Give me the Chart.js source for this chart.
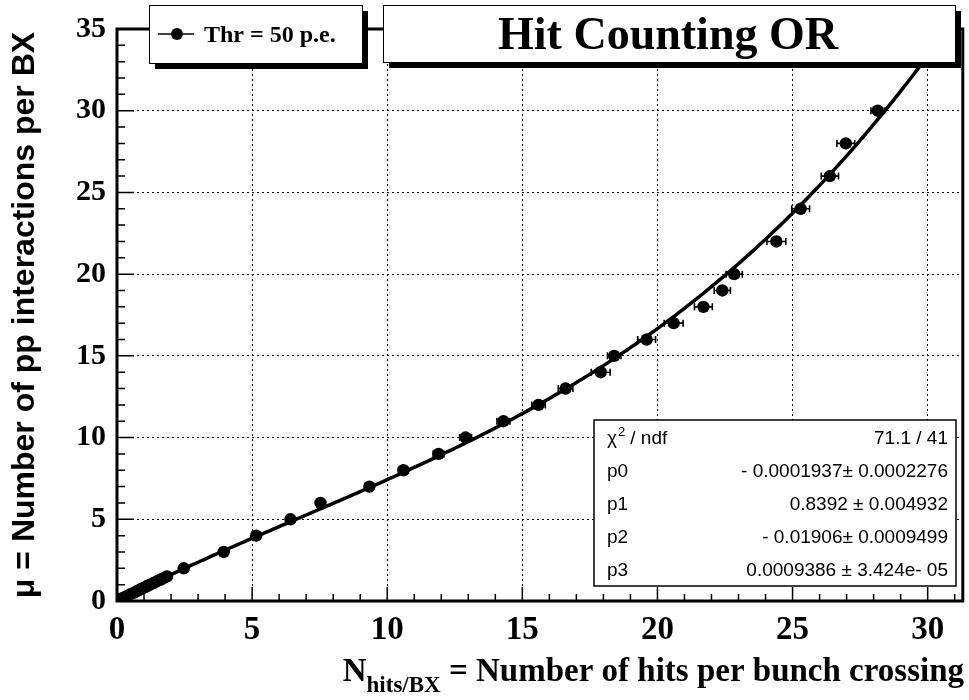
<!DOCTYPE html>
<html>
<head>
<meta charset="utf-8">
<script src="https://cdn.jsdelivr.net/npm/chart.js@4.4.0/dist/chart.umd.min.js"></script>
<style>
  body { margin: 0; background: #fff; }
  canvas { display: block; }
</style>
</head>
<body>
<canvas id="fitChart" width="969" height="700"></canvas>
<script>
// measured points: hits per bunch crossing vs. mean pp interactions
const hits = [0.012, 0.024, 0.036, 0.06, 0.084, 0.12, 0.18, 0.24, 0.36, 0.48, 0.61, 0.73, 0.85, 0.98, 1.1, 1.22, 1.35, 1.47, 1.6, 1.72, 1.85,
  2.47, 3.95, 5.15, 6.42, 7.53, 9.34, 10.6, 11.9, 12.9, 14.3, 15.6, 16.6, 17.9, 18.4, 19.6, 20.6, 21.7, 22.4, 22.84, 24.4, 25.3, 26.38, 26.97, 28.15];
const hitErrors = [0.002, 0.003, 0.004, 0.005, 0.006, 0.008, 0.01, 0.012, 0.015, 0.018, 0.02, 0.022, 0.025, 0.027, 0.03, 0.032, 0.034, 0.036, 0.038, 0.04, 0.045,
  0.06, 0.08, 0.1, 0.12, 0.14, 0.16, 0.18, 0.2, 0.22, 0.24, 0.25, 0.27, 0.35, 0.25, 0.33, 0.35, 0.33, 0.3, 0.3, 0.35, 0.33, 0.32, 0.33, 0.25];
const mu = [0.01, 0.02, 0.03, 0.05, 0.07, 0.1, 0.15, 0.2, 0.3, 0.4, 0.5, 0.6, 0.7, 0.8, 0.9, 1.0, 1.1, 1.2, 1.3, 1.4, 1.5,
  2, 3, 4, 5, 6, 7, 8, 9, 10, 11, 12, 13, 14, 15, 16, 17, 18, 19, 20, 22, 24, 26, 28, 30];

// cubic fit p0 + p1 x + p2 x^2 + p3 x^3
const fitParams = [-0.0001937, 0.8392, -0.01906, 0.0009386];
const statNames = ["p0", "p1", "p2", "p3"];
const statValues = ["- 0.0001937\u00b1 0.0002276", "0.8392 \u00b1 0.004932", "- 0.01906\u00b1 0.0009499", "0.0009386 \u00b1 3.424e- 05"];
const chi2Text = "71.1 / 41";

const xMax = 31.3;
const yMax = 35;
const legendLabel = "Thr = 50 p.e.";
const titleText = "Hit Counting OR";

const fitX = [];
for (let x = 0; x <= 31; x += 0.1) fitX.push(x);
const fitY = fitX.map(x => fitParams[0] + fitParams[1] * x + fitParams[2] * x * x + fitParams[3] * x * x * x);

const serif = '"Liberation Serif", "Times New Roman", serif';
const sans = '"Liberation Sans", Arial, sans-serif';

function shadowBox(ctx, x, y, w, h) {
  ctx.fillStyle = '#000';
  ctx.fillRect(x + 6, y + 6, w, h);
  ctx.fillStyle = '#fff';
  ctx.fillRect(x, y, w, h);
  ctx.strokeStyle = '#000';
  ctx.lineWidth = 1;
  ctx.strokeRect(x + 0.5, y + 0.5, w, h);
}

const rootStyle = {
  id: 'rootStyle',
  beforeDraw(chart) {
    const ctx = chart.ctx;
    ctx.save();
    ctx.fillStyle = '#fff';
    ctx.fillRect(0, 0, chart.width, chart.height);
    ctx.restore();
  },
  beforeDatasetsDraw(chart) {
    // horizontal error bars with end caps
    const { ctx, scales: { x, y }, chartArea } = chart;
    ctx.save();
    ctx.beginPath();
    ctx.rect(chartArea.left, chartArea.top, chartArea.right - chartArea.left, chartArea.bottom - chartArea.top);
    ctx.clip();
    ctx.strokeStyle = '#000';
    ctx.lineWidth = 1.6;
    hits.forEach((h, i) => {
      const py = y.getPixelForValue(mu[i]);
      const x0 = x.getPixelForValue(h - hitErrors[i]);
      const x1 = x.getPixelForValue(h + hitErrors[i]);
      ctx.beginPath();
      ctx.moveTo(x0, py); ctx.lineTo(x1, py);
      ctx.moveTo(x0, py - 3.5); ctx.lineTo(x0, py + 3.5);
      ctx.moveTo(x1, py - 3.5); ctx.lineTo(x1, py + 3.5);
      ctx.stroke();
    });
    ctx.restore();
  },
  afterDatasetsDraw(chart) {
    const { ctx, scales: { x, y }, chartArea: a } = chart;
    ctx.save();
    ctx.strokeStyle = '#000';
    // inward tick marks
    ctx.lineWidth = 1.5;
    ctx.beginPath();
    for (let v = 0; v <= yMax; v++) {
      const py = y.getPixelForValue(v);
      ctx.moveTo(a.left, py);
      ctx.lineTo(a.left + (v % 5 === 0 ? 17 : 8), py);
    }
    for (let v = 0; v <= Math.floor(xMax); v++) {
      const px = x.getPixelForValue(v);
      ctx.moveTo(px, a.bottom);
      ctx.lineTo(px, a.bottom - (v % 5 === 0 ? 14 : 7));
    }
    ctx.stroke();
    // frame
    ctx.lineWidth = 3;
    ctx.strokeRect(a.left, a.top, a.right - a.left, a.bottom - a.top);
    ctx.restore();
  },
  afterDraw(chart) {
    const ctx = chart.ctx;
    ctx.save();

    // legend
    shadowBox(ctx, 149, 5, 213, 58);
    ctx.strokeStyle = '#000';
    ctx.lineWidth = 1.5;
    ctx.beginPath();
    ctx.moveTo(158, 34); ctx.lineTo(194, 34);
    ctx.stroke();
    ctx.fillStyle = '#000';
    ctx.beginPath();
    ctx.arc(177, 34, 6, 0, Math.PI * 2);
    ctx.fill();
    ctx.font = 'bold 24px ' + serif;
    ctx.textAlign = 'left';
    ctx.textBaseline = 'alphabetic';
    ctx.fillText(legendLabel, 204, 42);

    // title
    shadowBox(ctx, 383, 5, 572, 57);
    ctx.fillStyle = '#000';
    ctx.font = 'bold 46px ' + serif;
    ctx.textAlign = 'center';
    ctx.fillText(titleText, 668, 49);

    // fit statistics
    const sx = 594, sy = 420, sw = 362, sh = 166;
    ctx.fillStyle = '#fff';
    ctx.fillRect(sx, sy, sw, sh);
    ctx.strokeStyle = '#000';
    ctx.lineWidth = 1.5;
    ctx.strokeRect(sx, sy, sw, sh);
    ctx.fillStyle = '#000';
    const rowH = sh / 5;
    const rowY = i => sy + rowH * (i + 0.5) + 7;
    ctx.font = '19px ' + sans;
    ctx.textAlign = 'left';
    ctx.fillText('\u03c7', 607, rowY(0));
    const chiW = ctx.measureText('\u03c7').width;
    ctx.font = '13px ' + sans;
    ctx.fillText('2', 607 + chiW + 1, rowY(0) - 8);
    ctx.font = '19px ' + sans;
    ctx.fillText(' / ndf', 607 + chiW + 8, rowY(0));
    ctx.textAlign = 'right';
    ctx.fillText(chi2Text, 948, rowY(0));
    statNames.forEach((n, i) => {
      ctx.textAlign = 'left';
      ctx.fillText(n, 607, rowY(i + 1));
      ctx.textAlign = 'right';
      ctx.fillText(statValues[i], 948, rowY(i + 1));
    });

    // x axis title with subscript
    const mainFont = 'bold 33px ' + serif;
    const subFont = 'bold 23px ' + serif;
    const rest = ' = Number of hits per bunch crossing';
    ctx.textAlign = 'left';
    ctx.font = mainFont;
    const wN = ctx.measureText('N').width;
    const wRest = ctx.measureText(rest).width;
    ctx.font = subFont;
    const wSub = ctx.measureText('hits/BX').width;
    let tx = 964 - (wN + wSub + wRest);
    const base = 681;
    ctx.font = mainFont;
    ctx.fillText('N', tx, base);
    tx += wN;
    ctx.font = subFont;
    ctx.fillText('hits/BX', tx, base + 11);
    tx += wSub;
    ctx.font = mainFont;
    ctx.fillText(rest, tx, base);

    ctx.restore();
  }
};

new Chart(document.getElementById('fitChart').getContext('2d'), {
  type: 'scatter',
  data: {
    datasets: [
      {
        label: 'fit',
        data: fitX.map((x, i) => ({ x: x, y: fitY[i] })),
        showLine: true,
        borderColor: '#000',
        borderWidth: 3.5,
        pointRadius: 0,
        tension: 0,
        order: 2
      },
      {
        label: legendLabel,
        data: hits.map((h, i) => ({ x: h, y: mu[i] })),
        backgroundColor: '#000',
        borderColor: '#000',
        pointRadius: 6.2,
        pointBorderWidth: 0,
        order: 1
      }
    ]
  },
  options: {
    responsive: false,
    animation: false,
    events: [],
    layout: { padding: { left: 0, top: 26, right: 4, bottom: 0 } },
    plugins: { legend: { display: false }, tooltip: { enabled: false } },
    scales: {
      x: {
        type: 'linear',
        min: 0,
        max: xMax,
        afterFit(scale) { scale.height = 99; },
        grid: {
          color: ctx => (ctx.tick && ctx.tick.value > 0 ? '#000' : 'rgba(0,0,0,0)'),
          lineWidth: 1,
          drawTicks: false
        },
        border: { display: false, dash: [2, 3] },
        ticks: {
          stepSize: 5,
          includeBounds: false,
          maxRotation: 0,
          padding: 10,
          color: '#000',
          font: { family: serif, weight: 'bold', size: 33 }
        }
      },
      y: {
        type: 'linear',
        min: 0,
        max: yMax,
        afterFit(scale) { scale.width = 117; },
        grid: {
          color: ctx => (ctx.tick && ctx.tick.value > 0 && ctx.tick.value < yMax ? '#000' : 'rgba(0,0,0,0)'),
          lineWidth: 1,
          drawTicks: false
        },
        border: { display: false, dash: [2, 3] },
        ticks: {
          stepSize: 5,
          padding: 11,
          color: '#000',
          font: { family: serif, weight: 'bold', size: 30 }
        },
        title: {
          display: true,
          text: '\u03bc = Number of pp interactions per BX',
          color: '#000',
          font: { family: sans, weight: 'bold', size: 32 },
          padding: { top: 6, bottom: 0 }
        }
      }
    }
  },
  plugins: [rootStyle]
});
</script>
</body>
</html>
